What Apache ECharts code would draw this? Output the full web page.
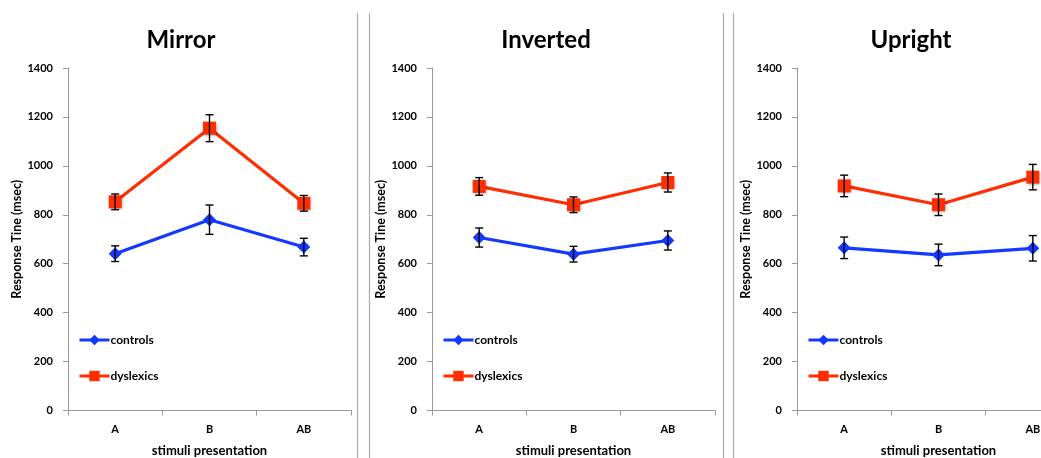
<!DOCTYPE html>
<html>
<head>
<meta charset="utf-8">
<script src="https://cdn.jsdelivr.net/npm/echarts@6/dist/echarts.min.js"></script>
<style>
html,body{margin:0;padding:0;background:#fff;overflow:hidden;}
#chart{width:1041px;height:458px;}
</style>
</head>
<body>
<div id="chart"></div>
<script>
const categories = ['A', 'B', 'AB'];
const panelTitles = ['Mirror', 'Inverted', 'Upright'];
const yTicks = [0, 200, 400, 600, 800, 1000, 1200, 1400];

const mirrorControls = [641, 780, 668];
const mirrorControlsErr = [32, 60, 36];
const mirrorDyslexics = [853, 1154, 847];
const mirrorDyslexicsErr = [32, 55, 32];

const invertedControls = [707, 639, 695];
const invertedControlsErr = [39, 32, 39];
const invertedDyslexics = [916, 841, 932];
const invertedDyslexicsErr = [36, 32, 39];

const uprightControls = [665, 636, 663];
const uprightControlsErr = [44, 44, 52];
const uprightDyslexics = [918, 841, 954];
const uprightDyslexicsErr = [44, 44, 52];

const panels = [
  {c: mirrorControls, ce: mirrorControlsErr, d: mirrorDyslexics, de: mirrorDyslexicsErr},
  {c: invertedControls, ce: invertedControlsErr, d: invertedDyslexics, de: invertedDyslexicsErr},
  {c: uprightControls, ce: uprightControlsErr, d: uprightDyslexics, de: uprightDyslexicsErr}
];

const FONT = 'Lato';
const BLUE = '#1338ff';
const RED = '#ff2d00';
const gridLefts = [68, 432, 797];
const gridWidth = 283;
const titleCenters = [181, 546, 911];

const chart = echarts.init(document.getElementById('chart'), null, {renderer: 'canvas'});

const grids = [], xAxes = [], yAxes = [], series = [], titles = [], legends = [];

function errRender(params, api) {
  const x = api.value(0), lo = api.value(1), hi = api.value(2);
  const pLo = api.coord([x, lo]);
  const pHi = api.coord([x, hi]);
  const w = 4;
  const st = {stroke: '#000', lineWidth: 1.4};
  return {
    type: 'group',
    children: [
      {type: 'line', shape: {x1: pHi[0], y1: pHi[1], x2: pLo[0], y2: pLo[1]}, style: st},
      {type: 'line', shape: {x1: pHi[0] - w, y1: pHi[1], x2: pHi[0] + w, y2: pHi[1]}, style: st},
      {type: 'line', shape: {x1: pLo[0] - w, y1: pLo[1], x2: pLo[0] + w, y2: pLo[1]}, style: st}
    ]
  };
}

panels.forEach((p, i) => {
  grids.push({left: gridLefts[i], width: gridWidth, top: 68, bottom: 47.5,
    containLabel: false, outerBoundsMode: 'none'});
  titles.push({
    text: panelTitles[i], left: titleCenters[i], top: 28, textAlign: 'center', padding: 0,
    textStyle: {fontFamily: FONT, fontWeight: 'bold', fontSize: 24, color: '#000'}
  });
  xAxes.push({
    type: 'category', gridIndex: i, data: categories, boundaryGap: true,
    name: 'stimuli presentation', nameLocation: 'middle', nameGap: 34,
    nameTextStyle: {fontFamily: FONT, fontWeight: 'bold', fontSize: 13, color: '#000'},
    axisLine: {show: true, lineStyle: {color: '#999', width: 1}},
    axisTick: {show: true, length: 5, lineStyle: {color: '#999'}},
    axisLabel: {fontFamily: FONT, fontWeight: 'bold', fontSize: 11, color: '#000', margin: 13},
    splitLine: {show: false}
  });
  yAxes.push({
    type: 'value', gridIndex: i, min: 0, max: 1400, interval: 200,
    name: 'Response Tine (msec)', nameLocation: 'middle', nameGap: 45, nameRotate: 90,
    nameTextStyle: {fontFamily: FONT, fontWeight: 'bold', fontSize: 12.5, color: '#000'},
    axisLine: {show: true, lineStyle: {color: '#999', width: 1}},
    axisTick: {show: true, length: 5, lineStyle: {color: '#999'}},
    axisLabel: {fontFamily: FONT, fontWeight: 'bold', fontSize: 11, color: '#000', margin: 15,
      formatter: v => yTicks.indexOf(v) >= 0 ? String(v) : ''},
    splitLine: {show: false}
  });
  series.push({
    name: 'controls', type: 'line', xAxisIndex: i, yAxisIndex: i, data: p.c,
    symbol: 'diamond', symbolSize: 13,
    lineStyle: {color: BLUE, width: 3.2}, itemStyle: {color: BLUE},
    z: 3, animation: false
  });
  series.push({
    name: 'dyslexics', type: 'line', xAxisIndex: i, yAxisIndex: i, data: p.d,
    symbol: 'rect', symbolSize: 13,
    lineStyle: {color: RED, width: 3.2},
    itemStyle: {color: RED, shadowBlur: 3, shadowColor: 'rgba(0,0,0,0.35)', shadowOffsetX: 1, shadowOffsetY: 1},
    z: 3, animation: false
  });
  series.push({
    name: 'errC' + i, type: 'custom', xAxisIndex: i, yAxisIndex: i,
    renderItem: errRender, encode: {x: 0, y: [1, 2]},
    data: p.c.map((v, k) => [k, v - p.ce[k], v + p.ce[k]]),
    z: 5, animation: false, silent: true
  });
  series.push({
    name: 'errD' + i, type: 'custom', xAxisIndex: i, yAxisIndex: i,
    renderItem: errRender, encode: {x: 0, y: [1, 2]},
    data: p.d.map((v, k) => [k, v - p.de[k], v + p.de[k]]),
    z: 5, animation: false, silent: true
  });
  legends.push({
    data: ['controls', 'dyslexics'], orient: 'vertical',
    left: gridLefts[i] + 10, top: 334, padding: 0, itemWidth: 30, itemHeight: 13, itemGap: 24,
    selectedMode: false,
    lineStyle: {width: 3},
    textStyle: {fontFamily: FONT, fontWeight: 'bold', fontSize: 12, color: '#000', padding: [0, 0, 0, -4]}
  });
});

const dividerXs = [357.5, 369.5, 723.5, 733.5];
const graphics = dividerXs.map(x => ({
  type: 'line', shape: {x1: x, y1: 13, x2: x, y2: 458},
  style: {stroke: '#aaaaaa', lineWidth: 1.2}, silent: true
}));

chart.setOption({
  backgroundColor: '#fff',
  animation: false,
  title: titles,
  legend: legends,
  grid: grids,
  xAxis: xAxes,
  yAxis: yAxes,
  series: series,
  graphic: graphics
});
</script>
</body>
</html>
